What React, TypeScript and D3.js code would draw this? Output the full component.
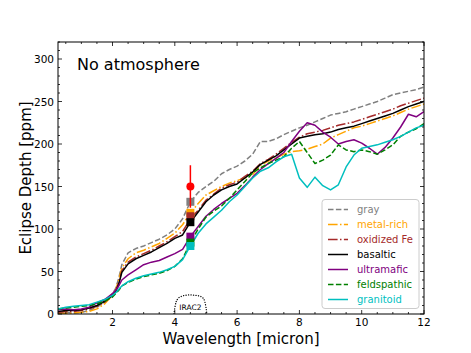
import React, { useEffect, useRef } from 'react';
import * as d3 from 'd3';

const width = 471;
const height = 353;
const margin = { top: 42, right: 47, bottom: 39, left: 58 };

// wavelength grid [micron]
const wave = [
  0.25, 0.5, 0.75, 1.0, 1.25, 1.5, 1.75, 2.0, 2.1, 2.2, 2.3, 2.5, 2.75, 3.0, 3.25, 3.5, 3.75, 4.0, 4.25, 4.5,
  4.75, 5.0, 5.25, 5.5, 5.75, 6.0, 6.25, 6.5, 6.75, 7.0, 7.25, 7.5, 7.75, 8.0, 8.25, 8.5, 8.75, 9.0, 9.25, 9.5,
  9.75, 10.0, 10.25, 10.5, 10.75, 11.0, 11.25, 11.5, 11.75, 12.0
];

const gray = [
  2, 2, 1, 2, 4, 8, 14, 24, 30, 42, 58, 72, 77, 80, 84, 88, 93, 100, 112, 132,
  143, 150, 156, 165, 170, 174, 180, 188, 203, 203, 206, 211, 215, 219, 222, 226, 230, 234, 236, 238,
  241, 244, 247, 250, 254, 258, 260, 262, 264, 267
];
const metalRich = [
  1, 1, 1, 2, 3, 6, 12, 22, 28, 40, 54, 65, 72, 75, 79, 83, 89, 95, 105, 119,
  130, 140, 145, 150, 154, 157, 160, 164, 175, 180, 184, 188, 191, 192, 194, 197, 200, 207, 211, 215,
  219, 221, 224, 227, 230, 233, 237, 241, 244, 247
];
const oxidizedFe = [
  2, 3, 3, 4, 6, 9, 14, 22, 27, 37, 51, 61, 67, 71, 75, 80, 85, 91, 97, 112,
  122, 134, 141, 148, 152, 155, 162, 168, 177, 182, 188, 195, 202, 208, 212, 214, 216, 219, 222, 224,
  226, 229, 232, 235, 238, 241, 245, 248, 251, 254
];
const basaltic = [
  3, 4, 4, 5, 7, 10, 15, 22, 26, 35, 49, 59, 65, 69, 73, 78, 83, 89, 93, 108,
  120, 132, 140, 146, 150, 153, 160, 167, 176, 181, 186, 193, 200, 207, 209, 211, 212, 214, 217, 219,
  221, 224, 227, 230, 233, 236, 240, 244, 247, 250
];
const ultramafic = [
  5, 6, 5, 6, 8, 13, 17, 24, 28, 33, 40, 46, 52, 58, 61, 63, 67, 71, 76, 91,
  103, 115, 123, 130, 136, 142, 151, 161, 170, 177, 183, 190, 203, 215, 225, 222, 214, 208, 200, 203,
  205, 201, 195, 188, 196, 207, 220, 235, 232, 238
];
const feldspathic = [
  6, 7, 8, 9, 10, 12, 15, 20, 24, 28, 33, 37, 41, 44, 46, 48, 51, 56, 65, 84,
  100, 114, 121, 127, 136, 146, 156, 166, 172, 177, 181, 185, 195, 203, 190, 177, 181, 187, 199, 193,
  191, 193, 191, 188, 193, 199, 209, 214, 218, 224
];
const granitoid = [
  6, 8, 9, 10, 11, 14, 17, 22, 25, 29, 33, 38, 42, 45, 47, 49, 52, 56, 64, 80,
  95, 106, 114, 122, 132, 140, 150, 160, 168, 172, 179, 185, 188, 160, 149, 161, 151, 146, 152, 173,
  187, 195, 197, 199, 202, 205, 209, 214, 219, 222
];

// band-averaged model points and measurement in IRAC2
const bandWave = 4.5;
const bandModel = [132, 119, 115, 108, 91, 84, 80];
const obsDepth = 150;
const obsErr = 25;

// IRAC2 response (scaled)
const iracWave = [3.97, 4.0, 4.04, 4.1, 4.2, 4.35, 4.5, 4.65, 4.8, 4.9, 4.96, 5.0, 5.03];
const iracResp = [0, 7, 14, 18, 20.5, 22, 22.5, 22, 21, 19, 15, 8, 0];

const names = ['gray', 'metal-rich', 'oxidized Fe', 'basaltic', 'ultramafic', 'feldspathic', 'granitoid'];
const colors = ['#808080', '#ffa500', '#a52a2a', '#000000', '#800080', '#008000', '#00bfbf'];
const dashes = ['5.5,2.4', '9.6,2.4,1.5,2.4', '9.6,2.4,1.5,2.4', null, null, '5.5,2.4', null];
const series = [gray, metalRich, oxidizedFe, basaltic, ultramafic, feldspathic, granitoid];

const xTicks = [2, 4, 6, 8, 10, 12];
const yTicks = [0, 50, 100, 150, 200, 250, 300];

const font = 'DejaVu Sans, sans-serif';

export default function App() {
  const ref = useRef<SVGSVGElement>(null);

  useEffect(() => {
    const svg = d3.select(ref.current);
    svg.selectAll('*').remove();

    const x = d3.scaleLinear().domain([0.25, 12]).range([margin.left, width - margin.right]);
    const y = d3.scaleLinear().domain([0, 320]).range([height - margin.bottom, margin.top]);
    const x0 = margin.left, x1 = width - margin.right, y0 = height - margin.bottom, y1 = margin.top;

    svg.append('rect').attr('width', width).attr('height', height).attr('fill', '#fff');

    svg.append('defs').append('clipPath').attr('id', 'plot')
      .append('rect').attr('x', x0).attr('y', y1).attr('width', x1 - x0).attr('height', y0 - y1);

    const plot = svg.append('g').attr('clip-path', 'url(#plot)');

    const line = d3.line<number>().x((_, i) => x(wave[i])).y(d => y(d));
    series.forEach((s, k) => {
      plot.append('path')
        .attr('d', line(s))
        .attr('fill', 'none')
        .attr('stroke', colors[k])
        .attr('stroke-width', 1.5)
        .attr('stroke-dasharray', dashes[k])
        .attr('stroke-linejoin', 'round');
    });

    // IRAC2 band
    const irac = d3.line<number>().x((_, i) => x(iracWave[i])).y(d => y(d)).curve(d3.curveMonotoneX);
    plot.append('path')
      .attr('d', irac(iracResp))
      .attr('fill', 'none')
      .attr('stroke', '#000')
      .attr('stroke-width', 1.3)
      .attr('stroke-linecap', 'round')
      .attr('stroke-dasharray', '0.1,2.4');
    svg.append('text')
      .attr('x', x(4.5)).attr('y', y(5))
      .attr('text-anchor', 'middle')
      .attr('font-family', font).attr('font-size', 7.5)
      .text('IRAC2');

    // band model squares
    bandModel.forEach((v, k) => {
      svg.append('rect')
        .attr('x', x(bandWave) - 4).attr('y', y(v) - 4)
        .attr('width', 8).attr('height', 8)
        .attr('fill', colors[k]);
    });

    // observation with error bar
    svg.append('line')
      .attr('x1', x(bandWave)).attr('x2', x(bandWave))
      .attr('y1', y(obsDepth - obsErr)).attr('y2', y(obsDepth + obsErr))
      .attr('stroke', 'red').attr('stroke-width', 1.5);
    svg.append('circle')
      .attr('cx', x(bandWave)).attr('cy', y(obsDepth)).attr('r', 4)
      .attr('fill', 'red');

    // ticks (inside, all four sides)
    const ax = svg.append('g').attr('stroke', '#000').attr('stroke-width', 0.8);
    d3.range(0.5, 12.01, 0.5).forEach(t => {
      const major = xTicks.includes(t);
      const l = major ? 4 : 2;
      ax.append('line').attr('x1', x(t)).attr('x2', x(t)).attr('y1', y0).attr('y2', y0 - l);
      ax.append('line').attr('x1', x(t)).attr('x2', x(t)).attr('y1', y1).attr('y2', y1 + l);
    });
    d3.range(0, 320.1, 10).forEach(t => {
      const major = yTicks.includes(t);
      const l = major ? 4 : 2;
      ax.append('line').attr('x1', x0).attr('x2', x0 + l).attr('y1', y(t)).attr('y2', y(t));
      ax.append('line').attr('x1', x1).attr('x2', x1 - l).attr('y1', y(t)).attr('y2', y(t));
    });

    xTicks.forEach(t => {
      svg.append('text')
        .attr('x', x(t)).attr('y', y0 + 12)
        .attr('text-anchor', 'middle')
        .attr('font-family', font).attr('font-size', 10.5)
        .text(t);
    });
    yTicks.forEach(t => {
      svg.append('text')
        .attr('x', x0 - 4).attr('y', y(t) + 4)
        .attr('text-anchor', 'end')
        .attr('font-family', font).attr('font-size', 10.5)
        .text(t);
    });

    svg.append('rect')
      .attr('x', x0).attr('y', y1).attr('width', x1 - x0).attr('height', y0 - y1)
      .attr('fill', 'none').attr('stroke', '#000').attr('stroke-width', 1);

    // axis labels
    svg.append('text')
      .attr('x', (x0 + x1) / 2).attr('y', 344)
      .attr('text-anchor', 'middle')
      .attr('font-family', font).attr('font-size', 15)
      .text('Wavelength [micron]');
    svg.append('text')
      .attr('transform', `translate(31, ${(y0 + y1) / 2}) rotate(-90)`)
      .attr('text-anchor', 'middle')
      .attr('font-family', font).attr('font-size', 15)
      .text('Eclipse Depth [ppm]');

    svg.append('text')
      .attr('x', 77).attr('y', 70)
      .attr('font-family', font).attr('font-size', 16)
      .text('No atmosphere');

    // legend
    const lg = svg.append('g');
    lg.append('rect')
      .attr('x', 322).attr('y', 199.5).attr('width', 97).attr('height', 109)
      .attr('rx', 3)
      .attr('fill', '#fff').attr('fill-opacity', 0.85)
      .attr('stroke', '#ccc').attr('stroke-width', 1);
    names.forEach((n, k) => {
      const yy = 209.5 + k * 15;
      lg.append('line')
        .attr('x1', 328).attr('x2', 348).attr('y1', yy).attr('y2', yy)
        .attr('stroke', colors[k]).attr('stroke-width', 1.5)
        .attr('stroke-dasharray', dashes[k]);
      lg.append('text')
        .attr('x', 357).attr('y', yy + 3.8)
        .attr('font-family', font).attr('font-size', 10)
        .attr('fill', colors[k])
        .text(n);
    });
  }, []);

  return (
    <svg
      ref={ref}
      width={width}
      height={height}
      style={{ position: 'absolute', left: 0, top: 0 }}
    />
  );
}
